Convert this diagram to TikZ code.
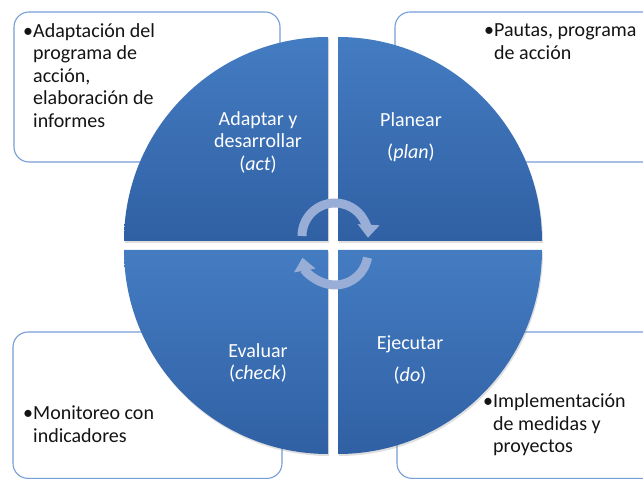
\documentclass[tikz,border=0pt]{standalone}
\usepackage{fontspec}
\setmainfont{Carlito}
\usetikzlibrary{arrows.meta,shadows}
\definecolor{boxline}{RGB}{118,158,214}
\definecolor{qtop}{RGB}{68,124,194}
\definecolor{qbot}{RGB}{48,96,164}
\definecolor{cyc}{RGB}{152,174,214}
\definecolor{txt}{RGB}{20,20,20}
\begin{document}
\begin{tikzpicture}[x=1pt,y=1pt,
    notebox/.style={draw=boxline, line width=1.1pt, fill=white, rounded corners=15pt},
    quarter/.style={top color=qtop, bottom color=qbot,
      drop shadow={shadow xshift=1pt, shadow yshift=-2pt, opacity=0.25}},
    cyclearrow/.style={draw=cyc, line width=9pt, -{Triangle[width=21pt,length=13pt]}},
    phase/.style={text=white, align=center, font=\fontsize{20}{22.5}\selectfont},
    notetext/.style={text=txt, align=left, anchor=base west, inner sep=0pt,
      font=\fontsize{20}{22.5}\selectfont}]
	\useasboundingbox (0,0) rectangle (643,479);
	\clip (0,0) rectangle (643,479);
	% notes behind the wheel
	\draw[notebox] (14,467) rectangle (280,317);
	\draw[notebox] (395,467) rectangle (670,317);
	\draw[notebox] (13,147) rectangle (282,0.6);
	\draw[notebox] (397,147) rectangle (670,0.6);
	% the four quarters
	\path[quarter] (328,238) -- (124,238) arc[start angle=180, end angle=90, radius=204pt] -- cycle;
	\path[quarter] (338,238) -- (338,442) arc[start angle=90, end angle=0, radius=204pt] -- cycle;
	\path[quarter] (328,229) -- (124,229) arc[start angle=180, end angle=270, radius=204pt] -- cycle;
	\path[quarter] (338,229) -- (542,229) arc[start angle=0, end angle=-90, radius=204pt] -- cycle;
	% turning arrows
	\draw[cyclearrow] (302,243) arc[start angle=180, end angle=-3, radius=33pt];
	\draw[cyclearrow] (367.5,221.3) arc[start angle=-10, end angle=-170, radius=33pt];
	% phases
	\node[phase] (act) at (258,337) {Adaptar y\\desarrollar\\(\textit{act})};
	\node[phase] (plan) at (411,342) {Planear\\[9pt](\textit{plan})};
	\node[phase] (check) at (258,116) {Evaluar\\(\textit{check})};
	\node[phase] (do) at (410,119) {Ejecutar\\[9pt](\textit{do})};
	% notes (anchored on the last line)
	\node[notetext] (actnote) at (33,351.5) {\llap{•}Adaptación del\\programa de\\acción,\\elaboración de\\informes};
	\node[notetext] (plannote) at (494,419.5) {\llap{•}Pautas, programa\\de acción};
	\node[notetext] (checknote) at (33,36.5) {\llap{•}Monitoreo con\\indicadores};
	\node[notetext] (donote) at (493,26) {\llap{•}Implementación\\de medidas y\\proyectos};
\end{tikzpicture}
\end{document}
